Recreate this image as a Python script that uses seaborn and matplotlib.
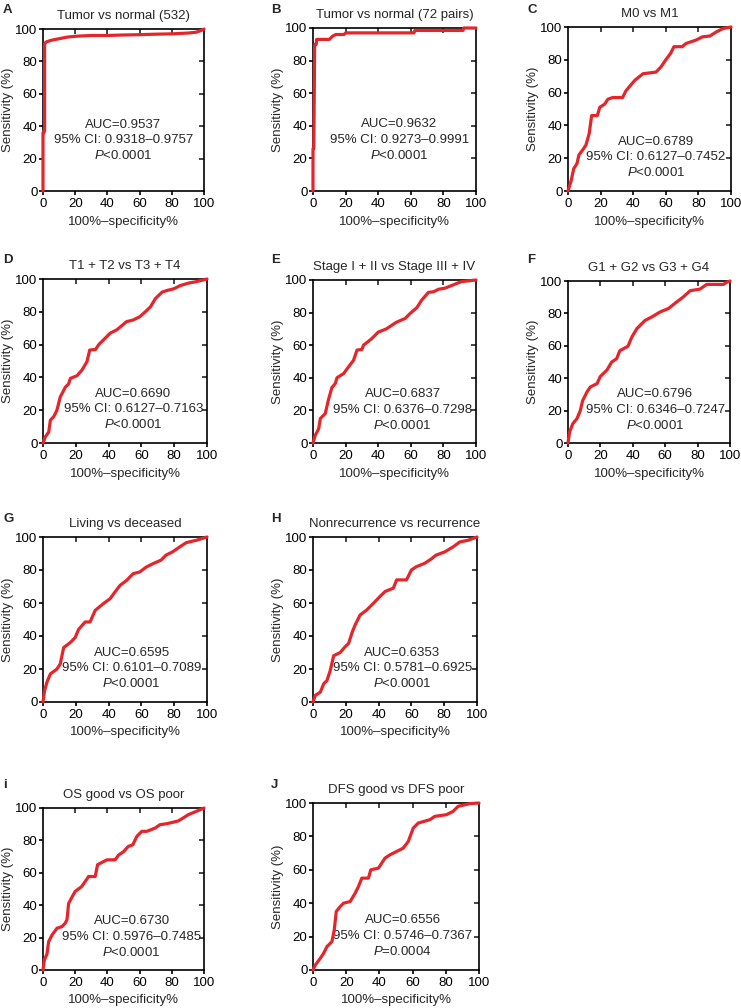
import matplotlib
matplotlib.use("Agg")
import matplotlib.pyplot as plt
import pandas as pd
import seaborn as sns

# ----------------------------
# data (x = 100%-specificity%, y = sensitivity %)

fpr_A = [0, 0, 0.5, 0.5, 1, 1, 2, 5, 10, 15, 20, 30, 40, 50, 60, 70, 80, 90, 95, 98, 100]
tpr_A = [0, 36, 36, 37, 37, 91, 92, 93, 94, 95, 95.5, 96, 96, 96.3, 96.5, 96.8, 97, 97.5, 98, 99, 100]

fpr_B = [0, 0, 0.5, 1, 1.2, 2, 2.2, 10, 11, 12, 13, 14, 19, 20, 62, 62.5, 92, 92.5, 100]
tpr_B = [0, 26, 26, 88, 90, 90, 93, 93, 94, 95, 95.5, 96, 96, 97, 97, 98.5, 98.5, 100, 100]

fpr_C = [0, 2, 3.5, 5.5, 6.7, 9, 11, 13, 14.5, 18, 19.5, 22.5, 24.5, 27.5, 33.5, 35.5, 38, 41, 46,
         54, 57, 60, 63, 65, 70, 72.5, 78.5, 82.5, 87, 91, 95, 100]
tpr_C = [0, 6.5, 13.6, 16.7, 22, 25, 28, 35, 46, 46, 51, 53, 56, 57, 57, 61, 64, 67.5, 71.5,
         72.5, 75.6, 80, 84, 88, 88, 90, 92, 94, 94.5, 97, 99, 100]

fpr_D = [0, 1.4, 3.5, 4.5, 6.5, 8.5, 10.5, 13.6, 15.6, 16.7, 20.7, 23.8, 26.8, 28.5, 32, 34, 38, 41,
         45, 51, 55, 59, 62.4, 65.5, 68.5, 72.6, 75.6, 79.7, 83.7, 88.8, 94, 100]
tpr_D = [0, 3.7, 6.7, 13.9, 16, 20, 28, 34, 36, 39.4, 41, 44.5, 49.6, 56.7, 57, 60, 64, 67,
         69, 74, 75, 77, 80, 83, 88, 92, 93, 94, 96, 97.5, 98.5, 100]

fpr_E = [0, 1.4, 3.5, 4.5, 7.5, 9.6, 11.6, 13.7, 14.7, 18.8, 21.8, 24.9, 27, 30, 31, 36, 40, 45,
         51, 56.5, 59.6, 63.7, 66.7, 70.8, 74, 77, 81, 86, 91, 100]
tpr_E = [0, 4.7, 8.8, 15, 18, 27, 34, 36.5, 40, 42.6, 46.7, 50.8, 57, 57.4, 60, 64, 68, 70,
         74, 76.4, 79.5, 83, 87.7, 92.4, 92.8, 94.3, 95, 97, 99, 100]

fpr_F = [0, 1, 3, 5.5, 7.6, 9, 11.7, 13.8, 17.9, 19.9, 24, 27, 30, 32, 37, 39.4, 42.5, 47.6,
         51.7, 56.9, 62, 67, 71, 75.4, 81.5, 85.6, 95.9, 98.4, 100]
tpr_F = [0, 6.8, 12, 15, 20, 26, 31.5, 34.6, 36.6, 41, 45, 50, 52, 57, 59.7, 65.4, 70.6, 75.7,
         77.8, 80.9, 83, 87, 90, 94, 95, 97.9, 97.9, 99.4, 100]

fpr_G = [0, 1, 2.4, 4.5, 8.5, 10.5, 12.6, 16.6, 19.6, 21.7, 25.7, 28.7, 31.8, 36.8, 40.9, 43.9,
         47, 51, 55, 59, 63, 67, 72, 75, 79, 83.4, 87.4, 93.5, 100]
tpr_G = [0, 7, 12, 17, 20, 23, 33, 36, 39, 44, 48.5, 48.5, 55.5, 59.6, 62.6, 66.7,
         70.7, 73.7, 77.8, 78.8, 81.8, 83.8, 86, 89, 91, 94, 96.6, 98, 100]

fpr_H = [0, 1.4, 4.5, 6.5, 8.5, 10.5, 12.6, 16.6, 19.6, 21.7, 24, 25.7, 28.7, 32.8, 36.8, 40.9,
         44, 49, 51, 57, 60, 63, 68, 72, 75, 80.4, 85.4, 89.5, 94.5, 100]
tpr_H = [0, 4, 6, 11, 13, 19, 28, 30, 33.5, 35.5, 42.6, 46.7, 52.7, 55.8, 59.8, 64,
         67, 69, 74, 74, 80, 82, 84, 86.6, 89, 91, 94, 97, 98, 100]

fpr_I = [0, 0.8, 2.5, 3.5, 5.6, 8.7, 11.8, 13.8, 14.9, 15.9, 18, 20, 24, 26.2, 28.3, 32.4, 33.9,
         36.6, 39.7, 44.8, 47, 50, 53, 55.8, 58.3, 61.4, 64.5, 69.6, 72.7, 76.9, 84, 87, 90.3,
         95.4, 100]
tpr_I = [0, 6, 10, 17.5, 21.6, 25.8, 26.8, 28.9, 31, 41, 45, 48.5, 51.5, 54.6, 57.7, 57.7, 65,
         66.4, 68, 68, 71, 73, 76.3, 77.3, 82.5, 85.6, 85.6, 87.6, 89.7, 90.3, 92, 93.8, 95.9,
         98, 100]

fpr_J = [0, 1.4, 4.4, 6.4, 8.4, 11.4, 12.8, 14, 16.4, 18.4, 22.4, 25.4, 27.4, 29.4, 33.4, 34.8,
         39.4, 41.4, 43.4, 46.4, 50.4, 54.4, 57.4, 60.4, 63.4, 70.4, 73.4, 80.4, 84.4, 87.4,
         94.4, 100]
tpr_J = [0, 3, 7, 10, 14, 17, 24, 35, 38, 40, 41, 46, 50, 55, 55, 60,
         61, 64, 67, 69, 71, 73, 77, 85, 88, 90, 92, 93, 95, 98,
         99.6, 100]

letters = ["A", "B", "C", "D", "E", "F", "G", "H", "i", "J"]
titles = ["Tumor vs normal (532)", "Tumor vs normal (72 pairs)", "M0 vs M1",
          "T1 + T2 vs T3 + T4", "Stage I + II vs Stage III + IV", "G1 + G2 vs G3 + G4",
          "Living vs deceased", "Nonrecurrence vs recurrence",
          "OS good vs OS poor", "DFS good vs DFS poor"]
auc = ["0.9537", "0.9632", "0.6789", "0.6690", "0.6837", "0.6796", "0.6595", "0.6353",
       "0.6730", "0.6556"]
ci = ["0.9318–0.9757", "0.9273–0.9991", "0.6127–0.7452", "0.6127–0.7163", "0.6376–0.7298",
      "0.6346–0.7247", "0.6101–0.7089", "0.5781–0.6925", "0.5976–0.7485", "0.5746–0.7367"]
pval = ["<0.0001", "<0.0001", "<0.0001", "<0.0001", "<0.0001", "<0.0001", "<0.0001",
        "<0.0001", "<0.0001", "=0.0004"]

curves = [(fpr_A, tpr_A), (fpr_B, tpr_B), (fpr_C, tpr_C), (fpr_D, tpr_D), (fpr_E, tpr_E),
          (fpr_F, tpr_F), (fpr_G, tpr_G), (fpr_H, tpr_H), (fpr_I, tpr_I), (fpr_J, tpr_J)]

# ----------------------------
# layout (pixel boxes of each axes: left, top, right, bottom)

W, H = 741, 1008
boxes = [(43, 29, 204, 191), (313, 28, 476, 191), (568, 27, 731, 191),
         (43, 279, 207, 443), (313, 280, 476, 443), (568, 281, 730, 443),
         (43, 537, 207, 702), (313, 537, 477, 702),
         (43, 808, 204, 970), (313, 803, 479, 970)]
letter_pos = [(3, 4), (271, 4), (527, 4), (3, 254), (271, 254), (527, 254),
              (3, 513), (271, 513), (3, 779), (271, 779)]
text_x = [50, 53, 54, 55, 55, 54, 54, 54.5, 55, 54]
text_y_hi = [True, True, False, False, False, False, False, False, False, False]

RED = "#E6252A"

sns.set_theme(style="ticks")
plt.rcParams['font.family'] = ['Liberation Sans', 'DejaVu Sans']
plt.rcParams['mathtext.fontset'] = 'custom'
plt.rcParams['mathtext.rm'] = 'Liberation Sans'
plt.rcParams['mathtext.it'] = 'Liberation Sans:italic'
FS = 9.5

fig = plt.figure(figsize=(W / 100, H / 100), dpi=100)

for i in range(len(curves)):
    l, t, r, b = boxes[i]
    ax = fig.add_axes([l / W, 1 - b / H, (r - l) / W, (b - t) / H])
    df = pd.DataFrame({'fpr': curves[i][0], 'tpr': curves[i][1]})
    sns.lineplot(data=df, x='fpr', y='tpr', ax=ax, estimator=None, sort=False,
                 color=RED, linewidth=2.3, clip_on=False, zorder=5)
    ax.set_xlim(0, 100)
    ax.set_ylim(0, 100)
    ax.set_xticks(range(0, 101, 20))
    ax.set_yticks(range(0, 101, 20))
    for s in ax.spines.values():
        s.set_visible(True)
        s.set_linewidth(1.2)
        s.set_color('black')
    ax.tick_params(axis='both', direction='out', length=3, width=1.2, labelsize=FS,
                   pad=1, colors='black')
    ax.tick_params(axis='x', pad=2)
    # inward ticks on top and right side of the box
    top = ax.secondary_xaxis('top')
    top.set_xticks(range(20, 100, 20))
    top.tick_params(direction='in', length=3.5, width=1.2, labeltop=False)
    top.spines['top'].set_visible(False)
    right = ax.secondary_yaxis('right')
    right.set_yticks(range(20, 100, 20))
    right.tick_params(direction='in', length=3.5, width=1.2, labelright=False)
    right.spines['right'].set_visible(False)

    ax.set_xlabel("100%–specificity%", fontsize=FS, labelpad=4)
    ax.set_ylabel("Sensitivity (%)", fontsize=FS, labelpad=1)
    ax.set_title(titles[i], fontsize=FS, pad=7)

    ys = (41, 31.5, 22) if text_y_hi[i] else (30, 20.5, 11)
    ax.text(text_x[i], ys[0], "AUC=" + auc[i], ha='center', va='center', fontsize=FS)
    ax.text(text_x[i], ys[1], "95% CI: " + ci[i], ha='center', va='center', fontsize=FS)
    ax.text(text_x[i], ys[2], r"$\it{P}$" + pval[i], ha='center', va='center', fontsize=FS)

    lx, ly = letter_pos[i]
    fig.text(lx / W, 1 - ly / H, letters[i], ha='left', va='top', fontsize=FS,
             fontweight='bold')

fig.savefig("out.png", dpi=100)
